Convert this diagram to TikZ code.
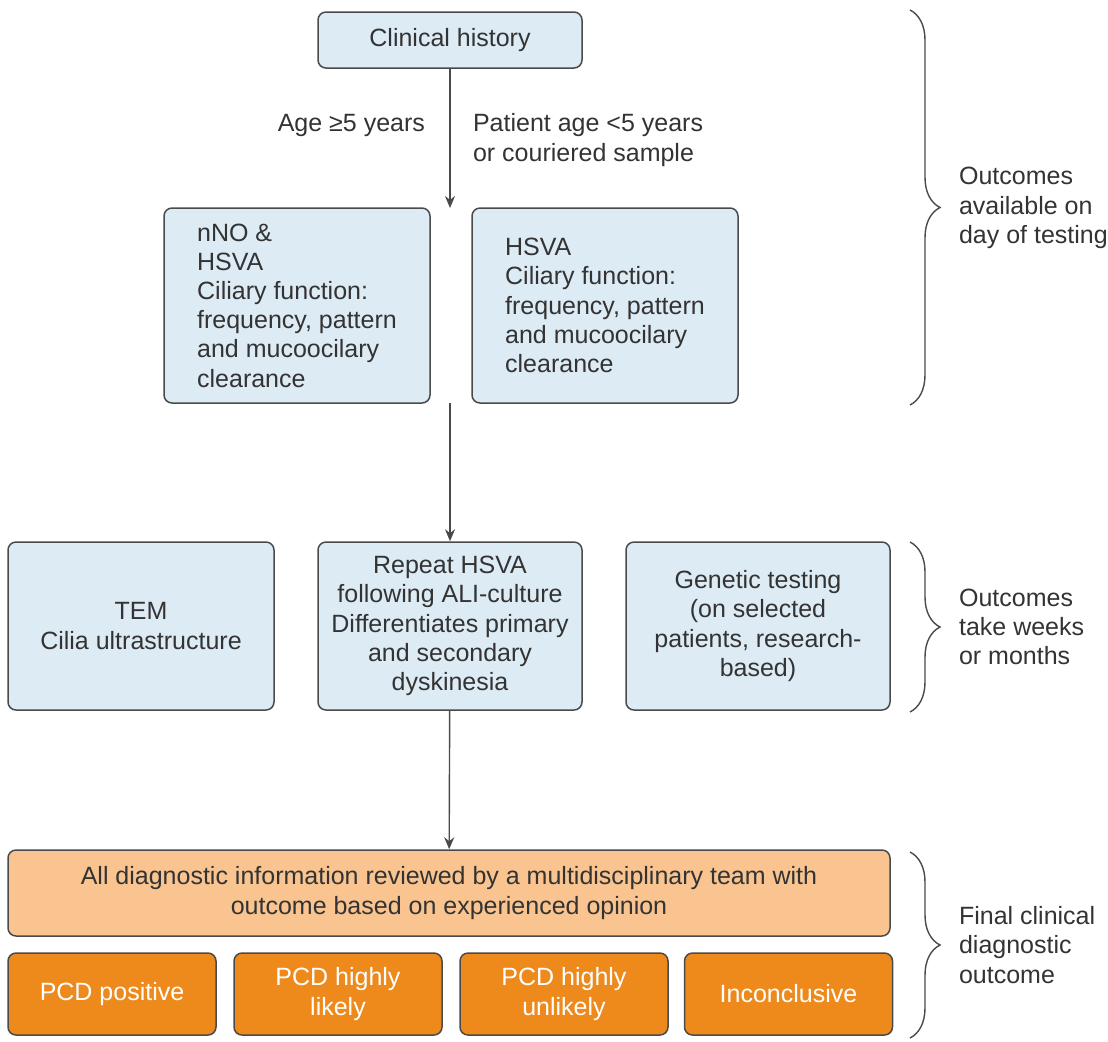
\documentclass[tikz,border=0pt]{standalone}
\usepackage{fontspec}
\setmainfont{Liberation Sans}
\usetikzlibrary{arrows.meta,decorations.pathreplacing}
\definecolor{ink}{HTML}{333333}
\definecolor{edge}{HTML}{4A4A4A}
\definecolor{pale}{HTML}{DDEBF5}
\definecolor{peach}{HTML}{F9C48F}
\definecolor{amber}{HTML}{EE8A1C}

\begin{document}
\begin{tikzpicture}[x=0.5pt, y=-0.5pt,
    every node/.style={font=\fontsize{12.5}{14.6}\selectfont, text=ink},
    box/.style={draw=edge, line width=0.75pt, rounded corners=4pt, fill=pale, align=center},
    verdict/.style={box, fill=amber, text=white, minimum width=104pt, minimum height=41pt},
    flow/.style={draw=edge, line width=0.7pt, -{Stealth[length=6pt, width=5pt]}},
    curly/.style={draw=edge, line width=0.7pt, decorate, decoration={brace, amplitude=15pt}}]
      \useasboundingbox (0,0) rectangle (1108,1041);

      % top
      \node[box, minimum width=132pt, minimum height=28pt] (history) at (450,40) {Clinical history};
      \coordinate (split) at (450,208);
      \draw[flow] (history) -- (split);
      \node[anchor=east] (older) at (432,125) {Age ≥5 years};
      \node[anchor=west, align=left] (younger) at (466,140) {Patient age <5 years\\or couriered sample};

      % day of testing
      \node[box, align=left, minimum width=133pt, minimum height=97.5pt] (nno) at (297,305.5)
        {nNO \&\\HSVA\\Ciliary function:\\frequency, pattern\\and mucoocilary\\clearance};
      \node[box, align=left, minimum width=133pt, minimum height=97.5pt] (hsva) at (605,305.5)
        {HSVA\\Ciliary function:\\frequency, pattern\\and mucoocilary\\clearance};

      % weeks or months
      \node[box, minimum width=133pt, minimum height=84pt] (tem) at (141,626) {TEM\\Cilia ultrastructure};
      \node[box, minimum width=132pt, minimum height=84pt] (repeat) at (450,626)
        {Repeat HSVA\\following ALI-culture\\Differentiates primary\\and secondary\\dyskinesia};
      \node[box, minimum width=132pt, minimum height=84pt] (genetic) at (758,626)
        {Genetic testing\\(on selected\\patients, research-\\based)};
      \coordinate (rejoin) at (450,403);
      \draw[flow] (rejoin) -- (repeat);

      % final outcome
      \node[box, fill=peach, minimum width=441pt, minimum height=43pt] (team) at (449,893)
        {All diagnostic information reviewed by a multidisciplinary team with\\outcome based on experienced opinion};
      \draw[flow] (repeat) -- (team);
      \node[verdict] (positive) at (112,994) {PCD positive};
      \node[verdict] (likely) at (338,994) {PCD highly\\likely};
      \node[verdict] (unlikely) at (564,994) {PCD highly\\unlikely};
      \node[verdict] (unclear) at (788.5,994) {Inconclusive};

      % braces
      \draw[curly] (910,10) -- (910,405);
      \draw[curly] (910,542) -- (910,712);
      \draw[curly] (910,852) -- (910,1038);
      \node[anchor=west, align=left] (sameday) at (952,208) {Outcomes\\available on\\day of testing};
      \node[anchor=west, align=left] (later) at (952,627) {Outcomes\\take weeks\\or months};
      \node[anchor=west, align=left] (final) at (952,945) {Final clinical\\diagnostic\\outcome};
    \end{tikzpicture}
\end{document}
